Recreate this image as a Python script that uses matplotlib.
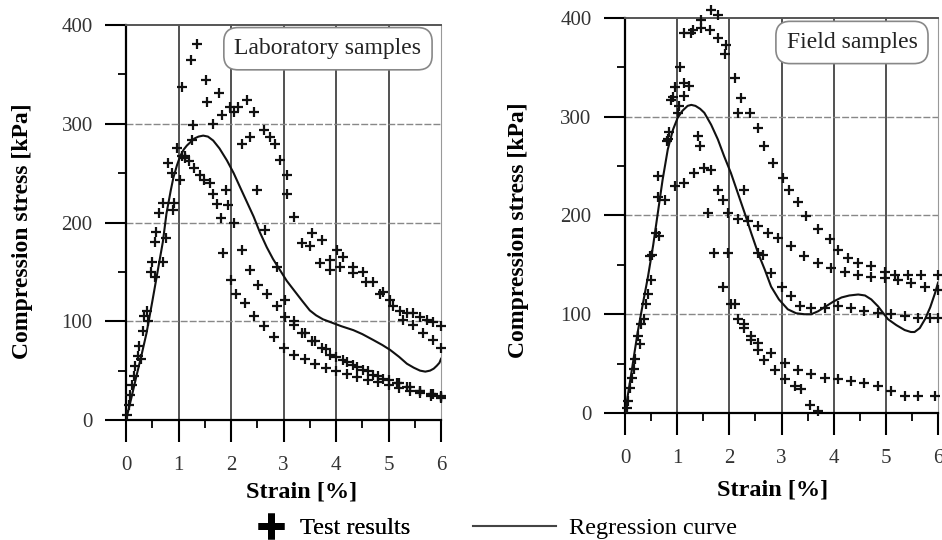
import matplotlib
matplotlib.use('Agg')
import matplotlib.pyplot as plt
from matplotlib.lines import Line2D
from matplotlib.ticker import MultipleLocator

plt.rcParams['font.family'] = ['Liberation Serif', 'DejaVu Serif']

# ---- laboratory samples ----
lab_rise_x = [0.02, 0.05, 0.08, 0.12, 0.15, 0.18, 0.22, 0.25, 0.28, 0.32, 0.35, 0.40, 0.42, 0.48,
              0.50, 0.55, 0.58, 0.62, 0.55, 0.70, 0.71, 0.77, 0.80, 0.87, 0.90, 0.92, 0.98, 1.03, 1.06]
lab_rise_y = [5, 15, 25, 35, 45, 55, 65, 75, 62, 90, 105, 110, 100, 150,
              160, 180, 190, 210, 145, 220, 160, 184, 260, 250, 213, 220, 275, 243, 267]

lab_a_x = [1.07, 1.23, 1.36, 1.52, 1.77, 1.85, 1.90, 1.95, 2.00, 2.09, 2.27, 2.43, 2.62, 2.81, 3.00,
           3.19, 3.40, 3.60, 3.80, 4.00, 4.20, 4.40, 4.60, 4.80, 5.00, 5.20, 5.40, 5.60, 5.80, 6.00]
lab_a_y = [337, 365, 381, 344, 331, 169, 233, 218, 142, 128, 118, 105, 95, 84, 73,
           66, 62, 57, 53, 50, 47, 44, 41, 38, 35, 32, 29, 27, 24, 22]

lab_b_x = [1.12, 1.25, 1.28, 1.55, 1.66, 1.82, 1.98, 2.05, 2.14, 2.30, 2.43, 2.49, 2.65, 2.87, 3.03,
           3.19, 3.35, 3.54, 3.73, 3.89, 4.14, 4.33, 4.52, 4.71, 4.90, 5.16, 5.35, 5.60, 5.85, 6.00]
lab_b_y = [267, 284, 299, 322, 300, 309, 317, 312, 317, 324, 312, 233, 192, 155, 122,
           100, 88, 80, 73, 66, 61, 56, 51, 46, 42, 37, 33, 29, 26, 24]

lab_c_x = [2.20, 2.37, 2.62, 2.75, 2.84, 2.93, 3.06, 3.06, 3.19, 3.35, 3.54, 3.73, 3.89, 4.01, 4.14,
           4.33, 4.52, 4.71, 4.90, 5.03, 5.22, 5.35, 5.47, 5.60, 5.73, 5.85, 6.00]
lab_c_y = [280, 287, 294, 287, 280, 263, 248, 229, 206, 179, 189, 182, 162, 172, 165,
           155, 150, 140, 130, 122, 110, 108, 108, 104, 101, 99, 95]

lab_c2_x = [3.50, 3.70, 3.89, 4.08, 4.33, 4.58, 4.83, 5.08, 5.27, 5.47, 5.65, 5.85, 6.00]
lab_c2_y = [176, 159, 152, 155, 149, 140, 128, 115, 101, 96, 88, 81, 73]

lab_d_x = [1.12, 1.20, 1.30, 1.41, 1.48, 1.60, 1.66, 1.73, 1.81, 2.05, 2.20, 2.36, 2.52, 2.68, 2.87,
           3.03, 3.19, 3.40, 3.60, 3.80, 4.00, 4.20, 4.40, 4.60, 4.80, 5.00, 5.20, 5.40, 5.60, 5.80, 6.00]
lab_d_y = [265, 262, 255, 248, 243, 240, 229, 219, 205, 199, 172, 152, 137, 128, 115,
           104, 96, 88, 80, 72, 64, 59, 54, 50, 45, 41, 37, 33, 29, 26, 23]

lab_fit_x = [0, 0.1, 0.2, 0.3, 0.39, 0.5, 0.6, 0.7, 0.77, 0.85, 0.9, 0.97, 1.03, 1.1, 1.16, 1.22,
             1.3, 1.38, 1.47, 1.56, 1.66, 1.78, 1.92, 2.05, 2.17, 2.3, 2.43, 2.55, 2.68, 2.8, 2.93,
             3.06, 3.19, 3.35, 3.5, 3.62, 3.75, 3.85, 3.95, 4.1, 4.33, 4.5, 4.71, 4.88, 5.03, 5.2,
             5.35, 5.48, 5.6, 5.7, 5.79, 5.86, 5.92, 5.97, 6.0]
lab_fit_y = [0, 22, 45, 67, 88, 120, 150, 180, 209, 232, 245, 258, 267, 274, 278, 281,
             285, 287, 288, 287, 283, 275, 263, 250, 236, 221, 206, 190, 175, 163, 152,
             141, 132, 121, 111, 106, 102, 100, 98, 95, 91, 87, 81, 76, 71, 64,
             57, 53, 50, 49, 50, 52, 55, 58, 62]

# ---- field samples ----
field_rise_x = [0.03, 0.06, 0.10, 0.13, 0.17, 0.20, 0.24, 0.28, 0.30, 0.37, 0.40, 0.44, 0.47, 0.50,
                0.52, 0.60, 0.63, 0.66, 0.63, 0.76, 0.80, 0.82, 0.85, 0.88, 0.92, 0.96]
field_rise_y = [5, 12, 25, 35, 45, 55, 78, 70, 90, 95, 110, 121, 159, 135,
                160, 182, 219, 179, 240, 216, 275, 277, 285, 317, 320, 330]

field_p_x = [1.01, 1.04, 1.14, 1.27, 1.46, 1.65, 1.78, 1.94, 2.10, 2.23, 2.39, 2.55, 2.67, 2.83, 3.03,
             3.15, 3.31, 3.47, 3.70, 3.92, 4.08, 4.27, 4.47, 4.72, 4.98, 5.17, 5.43, 5.68, 6.00]
field_p_y = [304, 311, 321, 385, 398, 408, 403, 373, 339, 319, 304, 289, 270, 253, 238,
             226, 214, 199, 186, 176, 165, 157, 152, 149, 143, 140, 140, 140, 140]

field_q_x = [1.05, 1.14, 1.30, 1.46, 1.62, 1.78, 1.91, 2.16, 2.29, 2.55, 2.64, 2.80, 3.00, 3.19, 3.35,
             3.57, 3.83, 4.08, 4.34, 4.59, 4.85, 5.10, 5.36, 5.62, 5.85, 6.00]
field_q_y = [350, 385, 388, 390, 388, 380, 364, 304, 226, 162, 160, 142, 128, 118, 108,
             106, 106, 108, 106, 103, 101, 100, 98, 96, 96, 96]

field_r_x = [0.95, 1.14, 1.33, 1.52, 1.65, 1.78, 1.87, 1.97, 2.16, 2.35, 2.55, 2.74, 2.93, 3.19, 3.44,
             3.70, 3.95, 4.21, 4.47, 4.72, 4.98, 5.23, 5.49, 5.75, 6.00]
field_r_y = [230, 233, 243, 248, 246, 226, 216, 203, 196, 194, 189, 182, 177, 169, 159,
             152, 147, 143, 140, 138, 137, 135, 132, 128, 125]

field_s_x = [1.14, 1.23, 1.39, 1.43, 1.59, 1.71, 1.87, 2.03, 2.16, 2.29, 2.42, 2.55, 2.80, 3.06, 3.31,
             3.57, 3.83, 4.08, 4.34, 4.59, 4.85, 5.10, 5.36, 5.62, 5.94]
field_s_y = [334, 331, 280, 270, 203, 162, 128, 110, 95, 86, 78, 71, 61, 51, 44,
             39, 35, 34, 32, 30, 27, 22, 17, 17, 17]

field_t_x = [1.97, 2.10, 2.29, 2.42, 2.55, 2.67, 2.87, 3.06, 3.25, 3.38, 3.54, 3.70]
field_t_y = [162, 110, 90, 74, 64, 54, 44, 34, 27, 24, 8, 2]

field_fit_x = [0, 0.12, 0.24, 0.34, 0.44, 0.54, 0.63, 0.72, 0.82, 0.92, 1.01, 1.1, 1.2, 1.27, 1.35,
               1.44, 1.52, 1.65, 1.78, 1.9, 2.03, 2.16, 2.29, 2.42, 2.55, 2.68, 2.8, 2.95, 3.12,
               3.28, 3.44, 3.57, 3.7, 3.85, 4.0, 4.15, 4.3, 4.47, 4.6, 4.72, 4.85, 5.04, 5.2,
               5.36, 5.48, 5.55, 5.65, 5.75, 5.85, 5.94, 6.0]
field_fit_y = [0, 40, 81, 110, 138, 170, 203, 236, 267, 287, 299, 306, 311, 312, 311,
               308, 304, 292, 277, 260, 243, 223, 203, 182, 162, 145, 128, 115, 105,
               101, 100, 100, 103, 108, 113, 117, 119, 120, 119, 115, 108, 95, 89,
               84, 82, 82, 86, 95, 107, 121, 132]

lab_series = [(lab_rise_x, lab_rise_y), (lab_a_x, lab_a_y), (lab_b_x, lab_b_y),
              (lab_c_x, lab_c_y), (lab_c2_x, lab_c2_y), (lab_d_x, lab_d_y)]
field_series = [(field_rise_x, field_rise_y), (field_p_x, field_p_y), (field_q_x, field_q_y),
                (field_r_x, field_r_y), (field_s_x, field_s_y), (field_t_x, field_t_y)]


def style_axes(ax):
    ax.set_xlim(0, 6)
    ax.set_ylim(0, 400)
    ax.xaxis.set_major_locator(MultipleLocator(1))
    ax.xaxis.set_minor_locator(MultipleLocator(0.5))
    ax.yaxis.set_major_locator(MultipleLocator(100))
    ax.yaxis.set_minor_locator(MultipleLocator(50))
    ax.tick_params(which='major', direction='out', length=15, width=1.5, labelsize=15,
                   labelcolor='#333333')
    ax.tick_params(axis='y', which='major', pad=9)
    ax.tick_params(axis='x', which='major', length=16, pad=10)
    ax.tick_params(which='minor', direction='out', length=6, width=1.3)
    for xv in range(1, 6):
        ax.axvline(xv, color='#333333', lw=1.2, zorder=0)
    for yv in (100, 200, 300):
        ax.axhline(yv, color='#888888', lw=1.0, ls=(0, (5, 1.5)), zorder=0)
    for s in ('left', 'bottom'):
        ax.spines[s].set_linewidth(1.6)
    ax.spines['top'].set_color('#555555')
    ax.spines['top'].set_linewidth(1.4)
    ax.spines['right'].set_color('#999999')


fig = plt.figure(figsize=(9.42, 5.4), dpi=100)
ax1 = fig.add_axes([0.1338, 0.2222, 0.3344, 0.7315])
ax2 = fig.add_axes([0.6635, 0.2352, 0.3323, 0.7315])

for ax, series, fx, fy in ((ax1, lab_series, lab_fit_x, lab_fit_y),
                           (ax2, field_series, field_fit_x, field_fit_y)):
    style_axes(ax)
    for sx, sy in series:
        ax.plot(sx, sy, ls='none', marker='+', ms=7, mew=1.6, color='#111111', zorder=3,
                clip_on=False)
    ax.plot(fx, fy, color='#111111', lw=1.5, zorder=4)

box = dict(boxstyle='round,pad=0.45,rounding_size=0.6', fc='white', ec='#888888', lw=1.2)
ax1.text(0.641, 0.94, 'Laboratory samples', transform=ax1.transAxes, ha='center', va='center',
         fontsize=17, color='#222222', bbox=box, zorder=5)
ax2.text(0.725, 0.938, 'Field samples', transform=ax2.transAxes, ha='center', va='center',
         fontsize=17, color='#222222', bbox=box, zorder=5)

fig.text(0.024, 0.572, 'Compression stress [kPa]', rotation=90, ha='center', va='center',
         fontsize=17, fontweight='bold')
fig.text(0.55, 0.574, 'Compression stress [kPa]', rotation=90, ha='center', va='center',
         fontsize=17, fontweight='bold')
fig.text(0.32, 0.089, 'Strain [%]', ha='center', va='center', fontsize=17.5, fontweight='bold')
fig.text(0.82, 0.093, 'Strain [%]', ha='center', va='center', fontsize=17.5, fontweight='bold')

h1 = Line2D([], [], ls='none', marker='+', ms=19, mew=5, color='black')
h2 = Line2D([], [], color='#444444', lw=1.5)
leg1 = fig.legend([h1], ['Test results'], loc='center left', bbox_to_anchor=(259 / 942, 0.022),
                  frameon=False, fontsize=17.5, handlelength=1.0, handletextpad=0.7,
                  borderpad=0, borderaxespad=0)
fig.add_artist(leg1)
fig.legend([h2], ['Regression curve'], loc='center left', bbox_to_anchor=(473 / 942, 0.022),
           frameon=False, fontsize=17.5, handlelength=3.4, handletextpad=0.55,
           borderpad=0, borderaxespad=0)

fig.savefig('out.png', dpi=100)
